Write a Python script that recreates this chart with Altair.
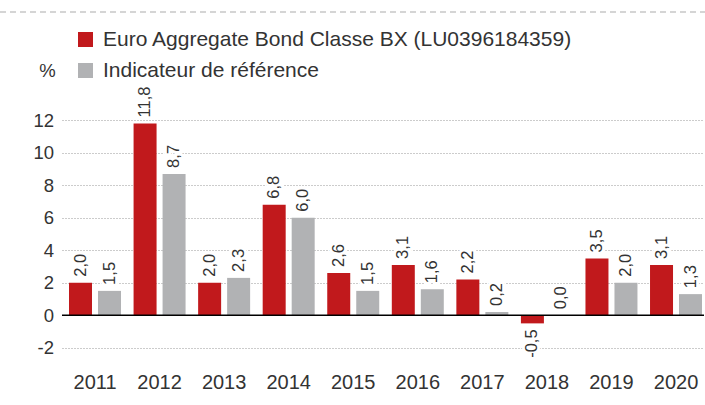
import altair as alt
import pandas as pd

years = ["2011", "2012", "2013", "2014", "2015", "2016", "2017", "2018", "2019", "2020"]
fund = [2.0, 11.8, 2.0, 6.8, 2.6, 3.1, 2.2, -0.5, 3.5, 3.1]
bench = [1.5, 8.7, 2.3, 6.0, 1.5, 1.6, 0.2, 0.0, 2.0, 1.3]
series = ["Euro Aggregate Bond Classe BX (LU0396184359)", "Indicateur de référence"]
colors = ["#C1191C", "#B1B2B4"]
y_ticks = [-2, 0, 2, 4, 6, 8, 10, 12]

rows = []
for i, yr in enumerate(years):
    rows.append({"year": yr, "series": series[0], "value": fund[i]})
    rows.append({"year": yr, "series": series[1], "value": bench[i]})
df = pd.DataFrame(rows)
df["label"] = df["value"].map(lambda v: f"{v:.1f}".replace(".", ","))

FONT = "Liberation Sans"
TXT = "#333333"

x_enc = alt.X(
    "year:N",
    sort=years,
    scale=alt.Scale(paddingInner=0.1946, paddingOuter=0.0697, align=0.78),
    axis=alt.Axis(title=None, labelAngle=0, labelFontSize=20, labelPadding=8,
                  ticks=False, domain=False, labelColor=TXT, grid=False),
)
xo_enc = alt.XOffset("series:N", sort=series,
                     scale=alt.Scale(domain=series, paddingInner=0.207, paddingOuter=0))
y_enc = alt.Y(
    "value:Q",
    scale=alt.Scale(domain=[-3, 13], nice=False, zero=False),
    axis=alt.Axis(values=y_ticks, tickCount=len(y_ticks) * 2, title="%", titleAngle=0,
                  titleX=-15, titleY=-34,
                  titleAlign="center", titleBaseline="middle", titleFontSize=18.5,
                  titleFontWeight="normal", titleColor=TXT,
                  labelFontSize=18.5, labelPadding=8.5, labelColor=TXT,
                  labelOverlap=False, labelExpr="'' + datum.value",
                  ticks=False, domain=False, grid=True, gridDash=[1, 2],
                  gridColor="#999999", gridWidth=1),
)

base = alt.Chart(df)

bars = base.mark_bar().encode(
    x=x_enc, xOffset=xo_enc, y=y_enc,
    color=alt.Color("series:N", sort=series,
                    scale=alt.Scale(domain=series, range=colors),
                    legend=alt.Legend(orient="none", legendX=13, legendY=-75, title=None,
                                      symbolType="square", symbolSize=225,
                                      symbolStrokeWidth=0, symbolOpacity=1,
                                      labelFontSize=21, labelColor=TXT, labelFont=FONT,
                                      labelLimit=0, rowPadding=9, labelOffset=7, padding=0,
                                      direction="vertical")),
)

def labels(cond, align, dx, halo):
    kw = dict(angle=270, align=align, baseline="middle", dx=dx, fontSize=16.5, font=FONT)
    if halo:
        kw.update(stroke="white", strokeWidth=6, strokeJoin="round", color="white")
    else:
        kw.update(color=TXT)
    return base.transform_filter(cond).mark_text(**kw).encode(
        x=x_enc, xOffset=xo_enc, y=y_enc, text="label:N")

pos_cond = alt.datum.value >= 0
neg_cond = alt.datum.value < 0

one = alt.Data(values=[{"k": 0}])
zero_rule = alt.Chart(one).mark_rule(color="black", strokeWidth=1.5).encode(y=alt.datum(0))
top_rule = alt.Chart(one).mark_rule(color="#C8C8C8", strokeWidth=1.5, strokeDash=[6, 4]).encode(
    x=alt.value(-62), x2=alt.value(643), y=alt.value(-92))

chart = alt.layer(
    bars,
    labels(pos_cond, "left", 6, True),
    labels(neg_cond, "right", -6, True),
    labels(pos_cond, "left", 6, False),
    labels(neg_cond, "right", -6, False),
    zero_rule,
    top_rule,
).properties(
    width=642, height=260,
    autosize=alt.AutoSizeParams(type="none"),
    padding={"left": 62, "top": 104, "right": 1, "bottom": 41},
).configure(font=FONT).configure_view(stroke=None)

chart.save("out.html", embed_options={"renderer": "svg", "actions": False})
